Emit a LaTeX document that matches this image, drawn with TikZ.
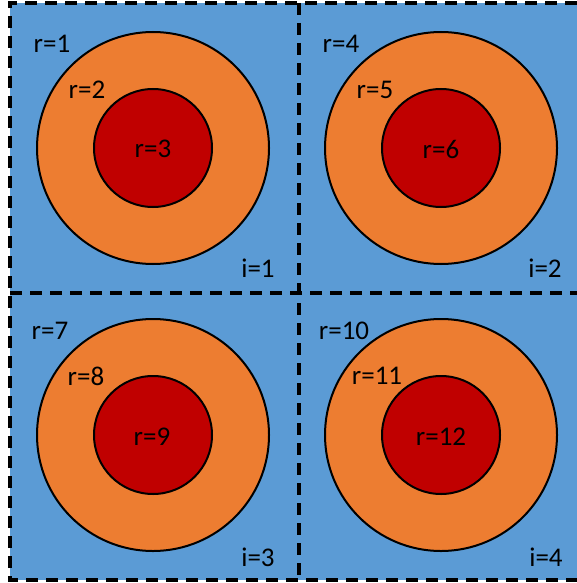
\documentclass[tikz,border=0pt]{standalone}
\usepackage{fontspec}
\setmainfont{Carlito}
\definecolor{cblue}{HTML}{5B9BD5}
\definecolor{corange}{HTML}{ED7D31}
\definecolor{cred}{HTML}{C00000}
\begin{document}
\begin{tikzpicture}[x=1pt,y=-1pt,
  outerc/.style={circle,draw=black,line width=2pt,fill=corange,minimum size=232pt,inner sep=0pt},
  innerc/.style={circle,draw=black,line width=2pt,fill=cred,minimum size=118pt,inner sep=0pt},
  lbl/.style={font=\fontsize{27}{30}\selectfont,inner sep=0pt},
  dashline/.style={line width=3.2pt,dash pattern=on 12pt off 8pt}]
\useasboundingbox (0,0) rectangle (577,583);
\fill[cblue] (10,3) rectangle (577,580);
\foreach \n/\cx/\cy in {a/153/148,b/441/148,c/153/435,d/441/435}{
  \node[outerc] (o\n) at (\cx,\cy) {};
  \node[innerc] (c\n) at (\cx,\cy) {};
}
\node[lbl] (r3) at (153,149) {r=3};
\node[lbl] (r6) at (441,149) {r=6};
\node[lbl] (r9) at (152,437) {r=9};
\node[lbl] (r12) at (441,437) {r=12};
\node[lbl] (r1) at (52,44) {r=1};
\node[lbl] (r2) at (87,90) {r=2};
\node[lbl] (r4) at (341,44) {r=4};
\node[lbl] (r5) at (375,90) {r=5};
\node[lbl] (r7) at (50,331) {r=7};
\node[lbl] (r8) at (86,376) {r=8};
\node[lbl] (r10) at (344,331) {r=10};
\node[lbl] (r11) at (377,376) {r=11};
\node[lbl] (i1) at (258,268) {i=1};
\node[lbl] (i2) at (545,268) {i=2};
\node[lbl] (i3) at (258,557) {i=3};
\node[lbl] (i4) at (546,557) {i=4};
\draw[dashline] (577,3) -- (10,3) -- (10,580) -- (577,580);
\draw[dashline] (299,3) -- (299,580);
\draw[dashline] (10,293) -- (577,293);
\end{tikzpicture}
\end{document}
